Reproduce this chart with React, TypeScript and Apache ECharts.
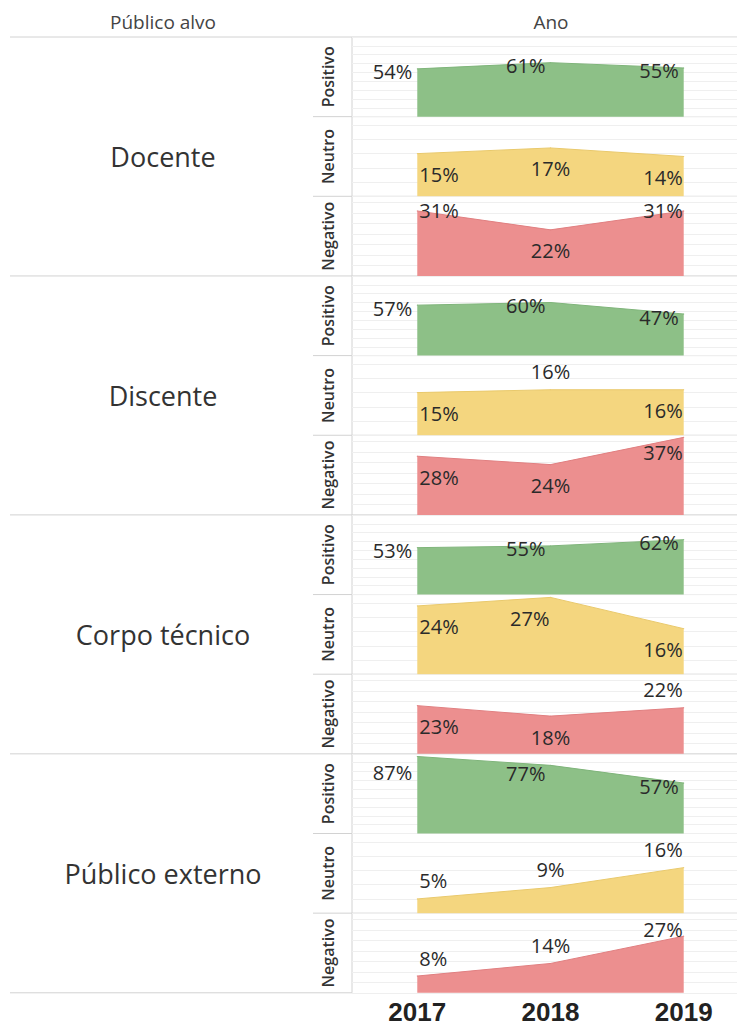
import React, { useEffect, useRef } from "react";
import * as echarts from "echarts";

const groups = ["Docente", "Discente", "Corpo técnico", "Público externo"];
const measures = ["Positivo", "Neutro", "Negativo"];
const years = [2017, 2018, 2019];

const docentePositivo = [54, 61, 55];
const docenteNeutro = [15, 17, 14];
const docenteNegativo = [31, 22, 31];
const discentePositivo = [57, 60, 47];
const discenteNeutro = [15, 16, 16];
const discenteNegativo = [28, 24, 37];
const corpoPositivo = [53, 55, 62];
const corpoNeutro = [24, 27, 16];
const corpoNegativo = [23, 18, 22];
const externoPositivo = [87, 77, 57];
const externoNeutro = [5, 9, 16];
const externoNegativo = [8, 14, 27];

const seriesValues = [
  [docentePositivo, docenteNeutro, docenteNegativo],
  [discentePositivo, discenteNeutro, discenteNegativo],
  [corpoPositivo, corpoNeutro, corpoNegativo],
  [externoPositivo, externoNeutro, externoNegativo],
];

// label placement codes (style only)
const labelPlacement = [
  [["L", "L", "L"], ["B", "B", "B"], ["C", "B", "C"]],
  [["L", "L", "L"], ["B", "A", "B"], ["B", "B", "B15"]],
  [["L", "L", "L"], ["B", "BL", "B"], ["B", "B", "A"]],
  [["L16", "L8", "L"], ["A", "A", "A"], ["A", "A", "A7"]],
];

const axisMax = [90, 28, 38];
const axisInterval = [10, 5, 5];
const areaColors = ["#8dc087", "#f4d67f", "#ec8f8f"];
const lineColors = ["#7fb47a", "#e9c96c", "#e07f80"];

const TOP = 37;
const ROW_H = 79.65;
const GRID_LEFT = 352;
const GRID_W = 385;
const X_MIN = 2016.51;
const X_MAX = 2019.4;
const LINE = "#d2d2d2";
const FONT = "'Open Sans', 'Noto Sans', sans-serif";

function labelFor(code: string, col: number) {
  const inAlign = col === 0 ? "left" : col === 1 ? "center" : "right";
  const inDx = col === 0 ? 2 : col === 1 ? 0 : -1;
  const map: Record<string, [string, number, number]> = {
    L: ["right", -5, 3],
    L8: ["right", -5, 8],
    L16: ["right", -5, 16],
    BL: ["right", -1, 21],
    B: [inAlign, inDx, 21],
    B15: [inAlign, inDx, 15],
    A: [inAlign, inDx, -18],
    A7: [inAlign, inDx, -7],
    C: [inAlign, inDx, 0],
  };
  const [align, dx, dy] = map[code];
  return { align, offset: [dx, dy] };
}

export default function App() {
  const ref = useRef<HTMLDivElement>(null);
  useEffect(() => {
    document.body.style.margin = "0";
    const chart = echarts.init(ref.current!, undefined, { renderer: "svg" });
    const grid: any[] = [];
    const xAxis: any[] = [];
    const yAxis: any[] = [];
    const series: any[] = [];
    const graphic: any[] = [];
    let idx = 0;
    groups.forEach((g, gi) => {
      measures.forEach((m, mi) => {
        const top = TOP + (gi * 3 + mi) * ROW_H;
        grid.push({ left: GRID_LEFT, width: GRID_W, top, height: ROW_H });
        const last = gi === groups.length - 1 && mi === measures.length - 1;
        xAxis.push({
          type: "value",
          gridIndex: idx,
          min: X_MIN,
          max: X_MAX,
          axisLine: { show: false },
          axisTick: { show: false },
          splitLine: { show: false },
          axisLabel: last
            ? {
                show: true,
                customValues: years,
                formatter: (v: number) => String(Math.round(v)),
                fontSize: 26,
                lineHeight: 26,
                fontWeight: "bold",
                color: "#222",
                margin: 6,
                fontFamily: "'Liberation Sans', Arial, sans-serif",
              }
            : { show: false },
        });
        yAxis.push({
          type: "value",
          gridIndex: idx,
          min: 0,
          max: axisMax[mi],
          interval: axisInterval[mi],
          axisLine: { show: false },
          axisTick: { show: false },
          axisLabel: { show: false },
          splitLine: { show: true, lineStyle: { color: "#efefef", width: 1 } },
        });
        const vals = seriesValues[gi][mi];
        series.push({
          type: "line",
          xAxisIndex: idx,
          yAxisIndex: idx,
          symbol: "circle",
          symbolSize: 1,
          itemStyle: { color: lineColors[mi] },
          lineStyle: { color: lineColors[mi], width: 1 },
          areaStyle: { color: areaColors[mi], opacity: 1 },
          label: {
            show: true,
            position: "inside",
            verticalAlign: "middle",
            fontSize: 20,
            fontFamily: FONT,
            color: "#2a2a2a",
            formatter: (p: any) => p.value[1] + "%",
          },
          data: vals.map((v, ci) => ({
            value: [years[ci], v],
            label: labelFor(labelPlacement[gi][mi][ci], ci),
          })),
        });
        graphic.push({
          type: "text",
          x: 328,
          y: top + ROW_H / 2,
          rotation: Math.PI / 2,
          style: {
            text: m,
            font: `600 16px ${FONT}`,
            fill: "#333",
            align: "center",
            verticalAlign: "middle",
            textAlign: "center",
            textVerticalAlign: "middle",
          },
        });
        if (mi > 0) {
          graphic.push({
            type: "line",
            shape: { x1: 313, y1: top, x2: 737, y2: top },
            style: { stroke: LINE, lineWidth: 1 },
          });
        }
        idx++;
      });
      const gTop = TOP + gi * 3 * ROW_H;
      graphic.push({
        type: "text",
        x: 163,
        y: gTop + (3 * ROW_H) / 2,
        style: {
          text: g,
          font: `400 27px ${FONT}`,
          fill: "#333",
          align: "center",
          verticalAlign: "middle",
          textAlign: "center",
          textVerticalAlign: "middle",
        },
      });
      graphic.push({
        type: "line",
        shape: { x1: 10, y1: gTop, x2: 737, y2: gTop },
        style: { stroke: LINE, lineWidth: 1 },
      });
    });
    const bottom = TOP + 12 * ROW_H;
    graphic.push(
      {
        type: "line",
        shape: { x1: 10, y1: bottom, x2: 352, y2: bottom },
        style: { stroke: LINE, lineWidth: 1 },
      },
      {
        type: "line",
        shape: { x1: 352, y1: TOP, x2: 352, y2: bottom },
        style: { stroke: LINE, lineWidth: 1 },
      },
      {
        type: "text",
        x: 163,
        y: 22,
        style: { text: "Público alvo", font: `400 19px ${FONT}`, fill: "#444", align: "center", verticalAlign: "middle", textAlign: "center", textVerticalAlign: "middle" },
      },
      {
        type: "text",
        x: 551,
        y: 22,
        style: { text: "Ano", font: `400 19px ${FONT}`, fill: "#444", align: "center", verticalAlign: "middle", textAlign: "center", textVerticalAlign: "middle" },
      }
    );
    chart.setOption({
      animation: false,
      backgroundColor: "#fff",
      grid,
      xAxis,
      yAxis,
      series,
      graphic,
    });
    return () => chart.dispose();
  }, []);
  return <div ref={ref} style={{ width: 737, height: 1027 }} />;
}
